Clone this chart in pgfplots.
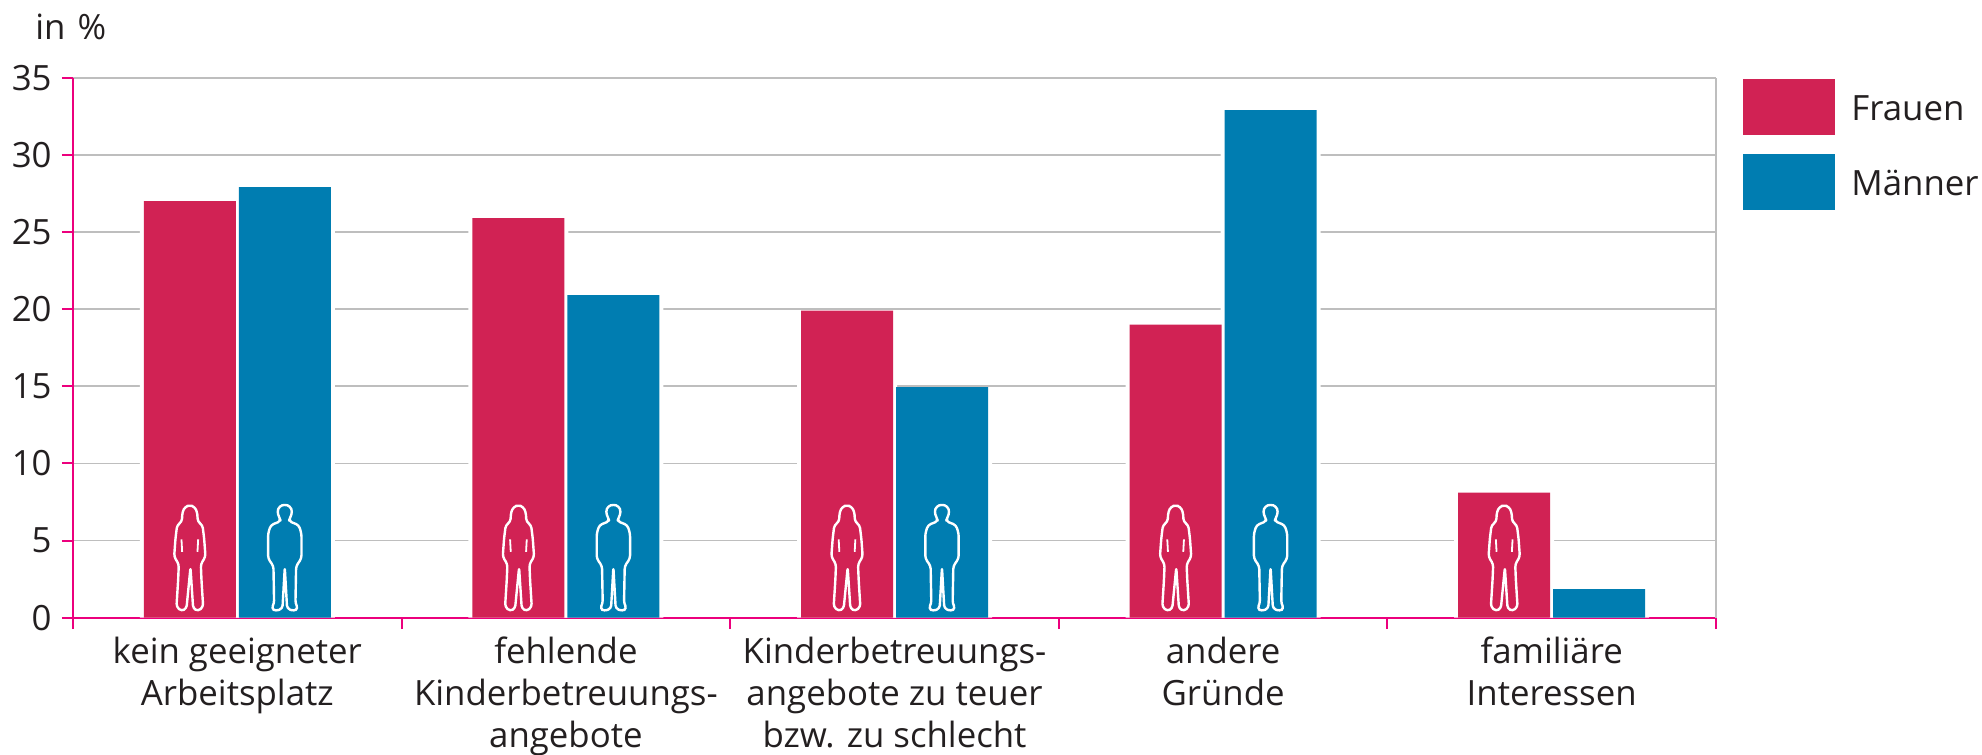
\documentclass[border=0pt]{standalone}
\usepackage{fontspec}
\setmainfont{Open Sans}
\usepackage{pgfplots}
\pgfplotsset{compat=1.18}
\definecolor{frau}{RGB}{209,34,84}
\definecolor{mann}{RGB}{0,125,177}
\definecolor{pinkax}{RGB}{236,0,125}
\definecolor{gridc}{RGB}{190,190,190}
\definecolor{txt}{RGB}{35,31,32}
\pgfdeclareplotmark{frauicon}{%
  \draw[white,line width=1.2pt,x=0.1667pt,y=0.1667pt,line join=round,rounded corners=1.5pt]
    (0,160)--(14,155)--(22,140)--(24,110)--(38,100)--(43,60)--(47,5)--(33,-17)--(35,-65)--(40,-145)--(25,-158)--(10,-150)--(2,-27)--(-10,-150)--(-25,-158)--(-40,-145)--(-35,-65)--(-33,-17)--(-47,5)--(-43,60)--(-38,100)--(-24,110)--(-22,140)--(-14,155)--cycle;
  \draw[white,line width=.9pt,x=0.1667pt,y=0.1667pt] (-25,57)--(-23,20) (25,57)--(23,20);
}
\pgfdeclareplotmark{mannicon}{%
  \draw[white,line width=1.2pt,x=0.1667pt,y=0.1667pt,line join=round,rounded corners=1.5pt]
    (0,162)--(16,157)--(23,140)--(16,122)--(12,112)--(42,100)--(50,75)--(50,0)--(34,-23)--(32,-135)--(40,-150)--(27,-158)--(7,-150)--(0,-27)--(-7,-150)--(-27,-158)--(-40,-150)--(-32,-135)--(-34,-23)--(-50,0)--(-50,75)--(-42,100)--(-12,112)--(-16,122)--(-23,140)--(-16,157)--cycle;
}
\begin{document}
\begin{tikzpicture}[x=1pt,y=1pt]
\path[use as bounding box] (-36.5,-68.65) rectangle (954.5,308.85);
\begin{axis}[
  at={(0,0)},anchor=origin,
  scale only axis,width=821.5pt,height=270pt,
  xmin=0.5,xmax=5.5,ymin=0,ymax=35,
  axis x line=bottom,axis y line=left,
  axis line style={pinkax,line width=1pt,-},
  tick style={pinkax,line width=1pt},
  ytick={0,5,...,35},
  ymajorgrids,
  major grid style={gridc,line width=.85pt},
  xtick={1,2,3,4,5},
  xticklabels={{kein geeigneter\\Arbeitsplatz},{fehlende\\Kinderbetreuungs-\\angebote},{Kinderbetreuungs-\\angebote zu teuer\\bzw. zu schlecht},{andere\\Gründe},{familiäre\\Interessen}},
  minor xtick={0.5,1.5,2.5,3.5,4.5,5.5},
  major x tick style={draw=none},
  minor tick length=5.7pt,
  minor tick style={pinkax,line width=1pt},
  tick align=outside,
  y tick style={pinkax,line width=1pt},
  major tick length=5.5pt,
  xticklabel style={align=center,font=\fontsize{17.4}{21}\selectfont,text=txt,inner sep=0pt,yshift=-4pt},
  yticklabel style={font=\fontsize{17.4}{20}\selectfont,text=txt,inner sep=0pt,xshift=-5pt},
  /pgf/number format/assume math mode=true,
  clip=false,
  legend style={at={(1.01643,0.9985)},anchor=north west,draw=none,inner sep=0pt,row sep=9.5pt,
    font=\fontsize{17.4}{20}\selectfont,text=txt,
    nodes={inner sep=0pt,anchor=west,yshift=-1.2pt},column sep=0pt},
  legend cell align=left,
  legend image code/.code={\fill[#1] (0,-14pt) rectangle (46pt,14pt);\path (54pt,0);},
]
\addplot[ybar,bar width=50pt,bar shift=-23.75pt,fill=white,draw=none,forget plot] coordinates {(1,27)(2,25.9)(3,19.9)(4,19)(5,8.1)};
\addplot[ybar,bar width=50pt,bar shift=23.75pt,fill=white,draw=none,forget plot] coordinates {(1,27.9)(2,20.9)(3,14.95)(4,32.9)(5,1.85)};
\addplot[ybar,bar width=46pt,bar shift=-23.75pt,fill=frau,draw=none] coordinates {(1,27)(2,25.9)(3,19.9)(4,19)(5,8.1)};
\addplot[ybar,bar width=46pt,bar shift=23.75pt,fill=mann,draw=none] coordinates {(1,27.9)(2,20.9)(3,14.95)(4,32.9)(5,1.85)};
\legend{Frauen,Männer}
\addplot[only marks,mark=frauicon,forget plot] coordinates {(0.8555,3.84)(1.8555,3.84)(2.8555,3.84)(3.8555,3.84)(4.8555,3.84)};
\addplot[only marks,mark=mannicon,forget plot] coordinates {(1.1445,3.84)(2.1445,3.84)(3.1445,3.84)(4.1445,3.84)};
\draw[gridc,line width=.85pt] (axis cs:5.5,0)--(axis cs:5.5,35);
\node[anchor=base west,inner sep=0pt,text=txt,font=\fontsize{17.4}{20}\selectfont] at (rel axis cs:0,1) [xshift=-19pt,yshift=19.3pt] {in\hspace{1.5pt} \%};
\end{axis}
\end{tikzpicture}
\end{document}
